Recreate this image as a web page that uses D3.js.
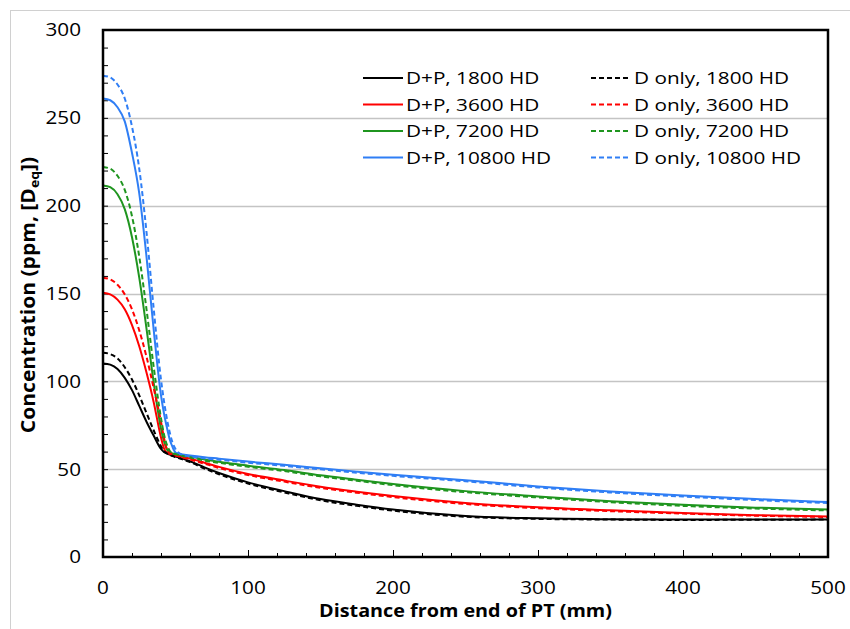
<!DOCTYPE html>
<html>
<head>
<meta charset="utf-8">
<script src="https://cdn.jsdelivr.net/npm/d3@7"></script>
<style>
  html, body { margin: 0; padding: 0; background: #fff; }
  svg { display: block; }
  text { font-family: "Open Sans", "DejaVu Sans", sans-serif; fill: #000; }
</style>
</head>
<body>
<svg id="chart" width="850" height="629"></svg>
<script>
// ---- data ----
const xValues = [0, 5, 10, 15, 20, 25, 30, 35, 40, 42, 44, 46, 48, 50, 52, 55, 60, 70, 80, 100, 125, 150, 175, 200, 250, 300, 350, 400, 450, 500];

const dp1800  = [110.2, 109.5, 107, 102, 95, 86, 77, 69, 61.5, 59.8, 59, 58.3, 57.7, 57.2, 56.7, 56, 54.5, 51, 47.8, 42.5, 37.5, 33, 29.8, 27, 23.3, 22, 21.5, 21.3, 21.3, 21.4];
const d1800   = [116.3, 115.5, 113, 108, 101, 92, 82, 72, 63, 60.2, 59, 58.2, 57.5, 56.9, 56.3, 55.5, 54, 50.4, 47.1, 41.8, 36.8, 32.3, 29.1, 26.4, 22.9, 21.7, 21.3, 21.1, 21.2, 21.3];
const dp3600  = [150.4, 149.5, 146.5, 141, 132, 120, 105, 88, 68, 62, 59.5, 58.8, 58.3, 57.9, 57.5, 57, 56, 53.7, 51.3, 47.3, 43.5, 40, 37.2, 34.7, 30.8, 28.3, 26.6, 25.1, 23.8, 23.1];
const d3600   = [159, 158, 155, 149.5, 141, 129, 114, 96, 77, 68, 61.5, 59.3, 58.4, 57.8, 57.3, 56.6, 55.5, 53.1, 50.7, 46.7, 42.9, 39.4, 36.6, 34.1, 30.2, 27.8, 26.1, 24.7, 23.5, 22.8];
const dp7200  = [211.5, 210.5, 206.5, 198, 182, 159, 130, 99, 73, 66, 61.5, 59.5, 58.9, 58.5, 58.2, 57.8, 57.2, 55.5, 54.2, 52, 49.5, 46.5, 44, 41.5, 37.5, 34.5, 31.8, 29.7, 28.1, 27];
const d7200   = [222, 221, 217, 209, 194, 171, 141, 108, 79, 70, 64, 60.5, 59.2, 58.6, 58.1, 57.5, 56.7, 54.9, 53.6, 51.4, 48.9, 45.9, 43.4, 40.9, 36.9, 33.9, 31.2, 29.1, 27.6, 26.5];
const dp10800 = [261, 260, 256, 248, 230, 207, 171, 129, 92, 82, 74, 67, 62.5, 59.5, 58.8, 58.4, 57.8, 56.8, 56, 54.3, 52.5, 50.5, 48.6, 46.8, 43.7, 40.2, 37.3, 35, 33, 31.3];
const d10800  = [274, 273, 269, 261, 245, 221, 185, 141, 101, 89, 79, 71, 65, 61.5, 59.5, 58.2, 57.3, 56.2, 55.4, 53.7, 51.9, 49.9, 48, 46.2, 43.1, 39.6, 36.7, 34.4, 32.4, 30.7];

const seriesNames = ["D+P, 1800 HD", "D+P, 3600 HD", "D+P, 7200 HD", "D+P, 10800 HD",
                     "D only, 1800 HD", "D only, 3600 HD", "D only, 7200 HD", "D only, 10800 HD"];
const seriesValues = [dp1800, dp3600, dp7200, dp10800, d1800, d3600, d7200, d10800];
const seriesColors = ["#000000", "#ff0000", "#1f951f", "#2f7ef5", "#000000", "#ff0000", "#1f951f", "#2f7ef5"];
const seriesDashed = [false, false, false, false, true, true, true, true];

const xTicks = [0, 100, 200, 300, 400, 500];
const yTicks = [0, 50, 100, 150, 200, 250, 300];

// ---- layout ----
(function () {
const svg = d3.select("#chart");
const pL = 103, pR = 828, pT = 30, pB = 557;
const x = d3.scaleLinear().domain([0, 500]).range([pL, pR]);
const y = d3.scaleLinear().domain([0, 300]).range([pB, pT]);

// outer light border
svg.append("rect").attr("x", 10.5).attr("y", 10.5).attr("width", 860).attr("height", 640)
  .attr("fill", "none").attr("stroke", "#d0d0d0").attr("stroke-width", 1);

// gridlines
svg.append("g").selectAll("line").data(yTicks.filter(d => d > 0 && d < 300)).join("line")
  .attr("x1", pL).attr("x2", pR)
  .attr("y1", d => Math.round(y(d)) + 0.5).attr("y2", d => Math.round(y(d)) + 0.5)
  .attr("stroke", "#c4c4c4").attr("stroke-width", 1.3);

// minor ticks (inside)
const yAxisMinor = d3.axisRight(y).tickValues(d3.range(0, 301, 10)).tickSize(5).tickFormat("");
const gy = svg.append("g").attr("transform", `translate(${pL},0)`).call(yAxisMinor);
gy.select(".domain").remove();
gy.selectAll("line").attr("stroke", "#000").attr("stroke-width", 1);

const xAxisMinor = d3.axisTop(x).tickValues(d3.range(0, 501, 20)).tickSize(4).tickFormat("");
const gxm = svg.append("g").attr("transform", `translate(0,${pB})`).call(xAxisMinor);
gxm.select(".domain").remove();
gxm.selectAll("line").attr("stroke", "#000").attr("stroke-width", 1);

const xAxisMajor = d3.axisTop(x).tickValues(xTicks).tickSize(7).tickFormat("");
const gxM = svg.append("g").attr("transform", `translate(0,${pB})`).call(xAxisMajor);
gxM.select(".domain").remove();
gxM.selectAll("line").attr("stroke", "#000").attr("stroke-width", 1);

// tick labels (horizontally widened to match the reference glyph proportions)
svg.append("g").selectAll("text").data(yTicks).join("text")
  .attr("transform", d => `translate(81,${y(d)}) scale(1.15,1)`).attr("dy", "0.36em")
  .attr("text-anchor", "end").attr("font-size", 18).text(d => d);

svg.append("g").selectAll("text").data(xTicks).join("text")
  .attr("transform", d => `translate(${x(d)},594) scale(1.15,1)`)
  .attr("text-anchor", "middle").attr("font-size", 18).text(d => d);

// axis titles
svg.append("text").attr("transform", `translate(${(pL + pR) / 2},617) scale(1.13,1)`)
  .attr("text-anchor", "middle").attr("font-size", 17.5).attr("font-weight", "bold")
  .text("Distance from end of PT (mm)");

const yt = svg.append("text")
  .attr("transform", `translate(35,295) rotate(-90) scale(1.08,1)`)
  .attr("text-anchor", "middle").attr("font-size", 19.5).attr("font-weight", "bold");
yt.append("tspan").text("Concentration (ppm, [D");
yt.append("tspan").attr("font-size", 13).attr("dy", 4).text("eq");
yt.append("tspan").attr("dy", -4).text("])");

// lines
const line = d3.line().x((d, i) => x(xValues[i])).y(d => y(d)).curve(d3.curveMonotoneX);
svg.append("g").selectAll("path").data(seriesValues).join("path")
  .attr("d", d => line(d))
  .attr("fill", "none")
  .attr("stroke", (d, i) => seriesColors[i])
  .attr("stroke-width", 2)
  .attr("stroke-dasharray", (d, i) => seriesDashed[i] ? "5,3" : null);

// plot border
svg.append("rect").attr("x", pL).attr("y", pT).attr("width", pR - pL).attr("height", pB - pT)
  .attr("fill", "none").attr("stroke", "#000").attr("stroke-width", 2.5);

// legend
const legendCols = [363, 591];
const legendRows = [78, 104.5, 131, 157.5];
const lg = svg.append("g");
seriesNames.forEach((name, i) => {
  const col = seriesDashed[i] ? 1 : 0;
  const row = i % 4;
  const lx = legendCols[col], ly = legendRows[row];
  lg.append("line").attr("x1", lx).attr("x2", lx + 40).attr("y1", ly).attr("y2", ly)
    .attr("stroke", seriesColors[i]).attr("stroke-width", 2)
    .attr("stroke-dasharray", seriesDashed[i] ? "5,3" : null);
  lg.append("text").attr("transform", `translate(${lx + 43},${ly}) scale(1.22,1)`).attr("dy", "0.36em")
    .attr("font-size", 17).text(name);
});
})();
</script>
</body>
</html>
